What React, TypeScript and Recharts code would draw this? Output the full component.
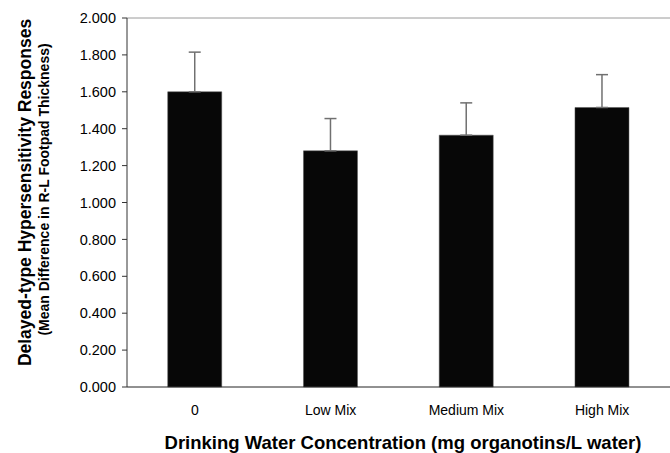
import { BarChart, Bar, XAxis, YAxis, ErrorBar, ReferenceLine } from 'recharts';

const categories = ['0', 'Low Mix', 'Medium Mix', 'High Mix'];
const means = [1.6, 1.28, 1.365, 1.515];
const sems = [0.215, 0.175, 0.175, 0.178];
const yTicks = [0, 0.2, 0.4, 0.6, 0.8, 1.0, 1.2, 1.4, 1.6, 1.8, 2.0];
const edgeTicks = [0, 1, 2, 3, 4];

const data = categories.map((name, i) => ({
  name,
  mean: means[i],
  err: [0, sems[i]],
  pos: i + 0.5,
}));

const FONT = '"Liberation Sans", Arial, sans-serif';

function YTitle(props: any) {
  const vb = props.viewBox || {};
  const cy = vb.y + vb.height / 2 - 10;
  return (
    <g fontFamily={FONT} fontWeight="bold" fill="#000">
      <text x={25} y={cy} transform={`rotate(-90 25 ${cy})`} textAnchor="middle" dominantBaseline="central" fontSize={17.5}>
        Delayed-type Hypersensitivity Responses
      </text>
      <text x={43.5} y={cy - 3} transform={`rotate(-90 43.5 ${cy - 3})`} textAnchor="middle" dominantBaseline="central" fontSize={14}>
        (Mean Difference in R-L Footpad Thickness)
      </text>
    </g>
  );
}

function XTitle(props: any) {
  const vb = props.viewBox || {};
  return (
    <text x={403} y={vb.y + 55} textAnchor="middle" dominantBaseline="central" fontFamily={FONT} fontWeight="bold" fontSize={18.5} fill="#000">
      Drinking Water Concentration (mg organotins/L water)
    </text>
  );
}

export default function App() {
  return (
    <div style={{ position: 'absolute', left: 0, top: 0, background: '#fff' }}>
      <BarChart
        width={670}
        height={453}
        data={data}
        margin={{ top: 18, right: 0, left: 0, bottom: 0 }}
        barCategoryGap="30%"
      >
        <XAxis
          xAxisId="edges"
          type="number"
          dataKey="pos"
          domain={[0, 4]}
          ticks={edgeTicks}
          tickFormatter={() => ''}
          axisLine={false}
          tickLine={{ stroke: '#333' }}
          tickSize={5}
          height={0}
        />
        <XAxis
          dataKey="name"
          height={66}
          tickLine={false}
          axisLine={{ stroke: '#222' }}
          tick={{ fontFamily: FONT, fontSize: 14, fill: '#000' }}
          tickMargin={12}
          label={<XTitle />}
        />
        <YAxis
          width={127}
          domain={[0, 2]}
          ticks={yTicks}
          interval={0}
          tickFormatter={(v: number) => v.toFixed(3)}
          axisLine={{ stroke: '#333' }}
          tickLine={{ stroke: '#333' }}
          tickSize={5}
          tickMargin={6}
          tick={{ fontFamily: FONT, fontSize: 14.5, fill: '#000' }}
          label={<YTitle />}
        />
        <ReferenceLine y={2} stroke="#9a9a9a" strokeWidth={1} />
        <Bar dataKey="mean" fill="#070707" stroke="#555" strokeWidth={0.5} isAnimationActive={false}>
          <ErrorBar dataKey="err" direction="y" width={6} stroke="#707070" strokeWidth={1.5} isAnimationActive={false} />
        </Bar>
      </BarChart>
    </div>
  );
}
